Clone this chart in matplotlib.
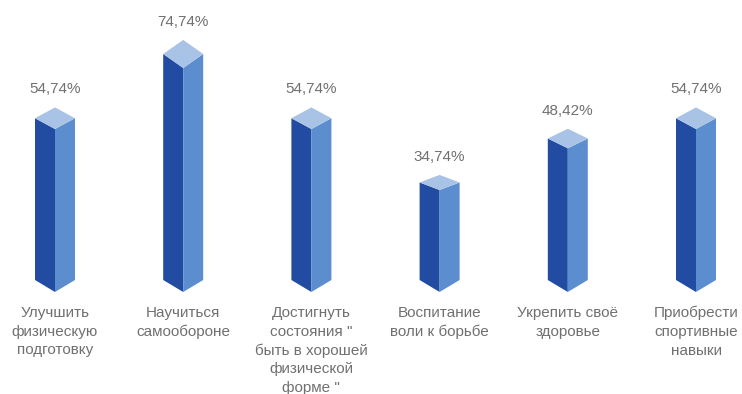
import matplotlib
matplotlib.use("Agg")
from matplotlib import pyplot as plt
from matplotlib.patches import Polygon

plt.rcParams['font.family'] = ['Liberation Sans', 'DejaVu Sans']

categories = [
    "Улучшить\nфизическую\nподготовку",
    "Научиться\nсамообороне",
    "Достигнуть\nсостояния \"\nбыть в хорошей\nфизической\nформе \"",
    "Воспитание\nволи к борьбе",
    "Укрепить своё\nздоровье",
    "Приобрести\nспортивные\nнавыки",
]
values = [54.74, 74.74, 54.74, 34.74, 48.42, 54.74]
labels = ["54,74%", "74,74%", "54,74%", "34,74%", "48,42%", "54,74%"]

front_color = "#214ca2"
side_color = "#5c8ecf"
top_color = "#a9c3e6"
text_color = "#707070"

W, H = 742, 394
fig = plt.figure(figsize=(W / 100, H / 100), dpi=100)
ax = fig.add_axes([0, 0, 1, 1])
ax.set_axis_off()

# pixel scale of the axes: 128.2 px per category, 3.05 px per percent
px_x = 128.2
px_y = 3.05
xmin = -55 / px_x
ax.set_xlim(xmin, xmin + W / px_x)
base = 1.3
ymin = base - (H - 292) / px_y
ax.set_ylim(ymin, ymin + H / px_y)

half_w = 20 / px_x
bottom_h = 12 / px_y

for i, v in enumerate(values):
    # top face looks a bit deeper on taller columns
    top_h = (1.9 + 0.1625 * v) / px_y
    left = [(i - half_w, base + bottom_h), (i, base), (i, v), (i - half_w, v + top_h)]
    right = [(i + half_w, base + bottom_h), (i, base), (i, v), (i + half_w, v + top_h)]
    top = [(i, v), (i - half_w, v + top_h), (i, v + 2 * top_h), (i + half_w, v + top_h)]
    ax.add_patch(Polygon(left, closed=True, facecolor=front_color, edgecolor="none"))
    ax.add_patch(Polygon(right, closed=True, facecolor=side_color, edgecolor="none"))
    ax.add_patch(Polygon(top, closed=True, facecolor=top_color, edgecolor="none"))

    ax.text(i, v + 2 * top_h + 18 / px_y, labels[i], ha="center", va="center",
            fontsize=11, color=text_color)
    ax.text(i, base - 14 / px_y, categories[i], ha="center", va="top",
            fontsize=11, color=text_color, linespacing=1.42)

fig.savefig("out.png", dpi=100, facecolor="white")
